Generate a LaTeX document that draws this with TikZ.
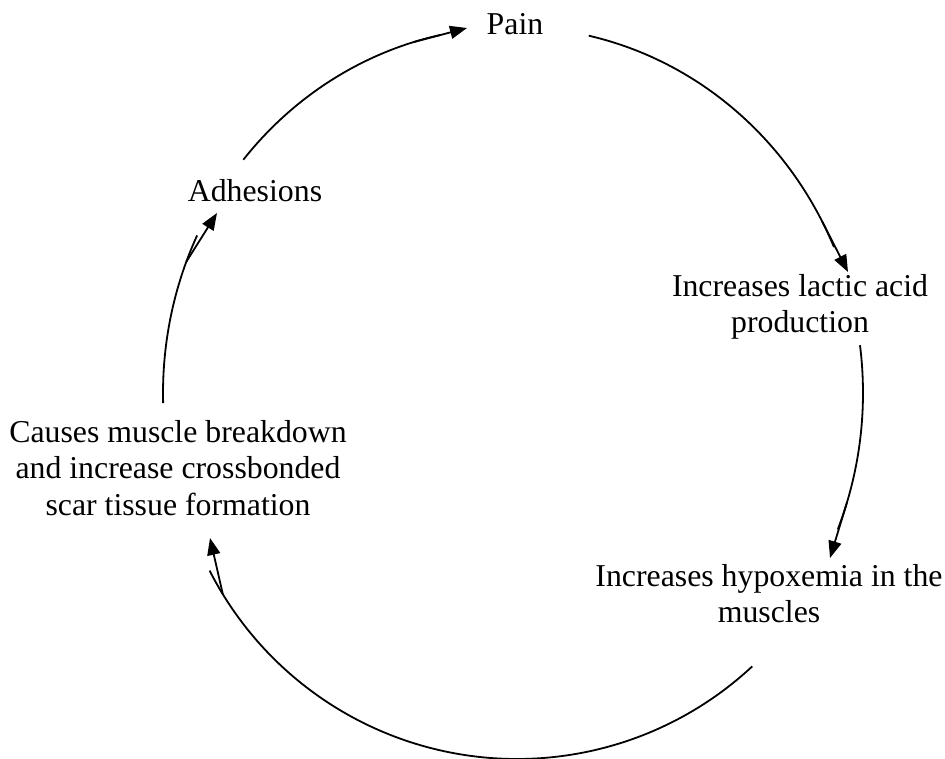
\documentclass[tikz,border=0pt]{standalone}
\usepackage{fontspec}
\setmainfont{Liberation Serif}
\usetikzlibrary{arrows.meta,calc}
\begin{document}
\begin{tikzpicture}[x=1pt,y=-1pt,
  lbl/.style={font=\fontsize{31.8}{36.6}\selectfont, align=center, inner sep=0pt, anchor=base},
  cyc/.style={line width=1.8pt},
  head/.style={line width=1.8pt, -{Triangle[length=17pt,width=13pt]}}]
\useasboundingbox (0,0) rectangle (945,759);
\coordinate (c) at (513,393);
\coordinate (d) at (517,414);
% labels (base anchor = baseline of the last line)
\node[lbl] (pain) at (515,35) {Pain};
\node[lbl] (lactic) at (800,332.6) {Increases lactic acid\\production};
\node[lbl] (hypox) at (769,622.6) {Increases hypoxemia in the\\muscles};
\node[lbl] (causes) at (178,515.2) {Causes muscle breakdown\\and increase crossbonded\\scar tissue formation};
\node[lbl] (adh) at (255,202) {Adhesions};
% arc A: Adhesions -> Pain
\coordinate (a0) at ($(c)+(-140.4:350 and 366)$);
\coordinate (a1) at ($(c)+(-106.5:350 and 366)$);
\coordinate (at) at (467,28);
\draw[cyc] (a0) arc[start angle=-140.4, end angle=-102, x radius=350, y radius=366];
\draw[head] (a1) -- (at);
% arc B: Pain -> lactic
\coordinate (b0) at ($(c)+(-77.5:350 and 366)$);
\coordinate (b1) at ($(c)+(-28:350 and 366)$);
\coordinate (bt) at (848,272);
\draw[cyc] (b0) arc[start angle=-77.5, end angle=-23.5, x radius=350, y radius=366];
\draw[head] (b1) -- (bt);
% arc C: lactic -> hypoxemia
\coordinate (c0) at ($(c)+(-7.5:350 and 366)$);
\coordinate (c1) at ($(c)+(17.4:350 and 366)$);
\coordinate (ct) at (830,558);
\draw[cyc] (c0) arc[start angle=-7.5, end angle=21.9, x radius=350, y radius=366];
\draw[head] (c1) -- (ct);
% arc D: hypoxemia -> causes
\coordinate (d0) at ($(d)+(47:345)$);
\coordinate (d1) at ($(d)+(148.5:345)$);
\coordinate (dt) at (210,538);
\draw[cyc] (d0) arc[start angle=47, end angle=153, radius=345];
\draw[head] (d1) -- (dt);
% arc E: causes -> adhesions
\coordinate (e0) at ($(c)+(178.4:350 and 366)$);
\coordinate (e1) at ($(c)+(201:350 and 366)$);
\coordinate (et) at (217,213);
\draw[cyc] (e0) arc[start angle=178.4, end angle=205.5, x radius=350, y radius=366];
\draw[head] (e1) -- (et);
\end{tikzpicture}
\end{document}
